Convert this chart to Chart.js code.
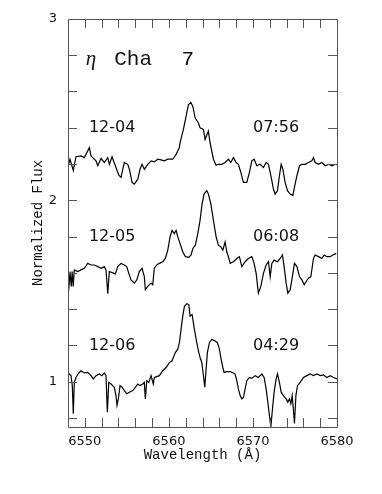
<!DOCTYPE html>
<html>
<head>
<meta charset="utf-8">
<script src="https://cdn.jsdelivr.net/npm/chart.js@4/dist/chart.umd.min.js"></script>
<style>
  html, body { margin: 0; padding: 0; background: #fff; }
  canvas { display: block; }
</style>
</head>
<body>
<canvas id="c" width="382" height="494"></canvas>
<script>
// ---- Data (wavelength in Å, normalized flux incl. offsets) ----
const wl1204 = [6548.08,6548.24,6548.63,6548.95,6549.55,6549.94,6550.54,6550.74,6551.33,6551.54,6551.93,6552.32,6552.73,6552.92,6553.24,6553.63,6554.04,6554.31,6554.70,6555.11,6555.30,6555.62,6555.89,6556.30,6556.57,6556.81,6557.08,6557.49,6557.88,6558.27,6558.68,6559.07,6559.46,6559.87,6560.46,6560.86,6561.25,6561.33,6561.73,6562.05,6562.32,6562.61,6562.85,6563.12,6563.51,6563.71,6564.11,6564.31,6564.70,6564.90,6565.30,6565.62,6565.89,6566.30,6566.69,6567.08,6567.37,6567.68,6568.00,6568.27,6568.56,6568.87,6569.27,6569.58,6569.87,6570.14,6570.46,6570.86,6571.25,6571.57,6571.85,6572.13,6572.44,6572.64,6572.92,6573.15,6573.36,6573.56,6573.83,6574.11,6574.43,6574.75,6574.90,6575.23,6575.54,6575.82,6576.21,6576.61,6577.01,6577.20,6577.40,6577.80,6578.20,6578.60,6578.99,6579.39,6579.79,6579.99];
const flux1204 = [2.198,2.226,2.164,2.240,2.244,2.235,2.290,2.244,2.217,2.190,2.230,2.208,2.235,2.198,2.240,2.190,2.138,2.126,2.208,2.198,2.171,2.098,2.089,2.116,2.171,2.198,2.171,2.198,2.217,2.211,2.226,2.222,2.217,2.226,2.226,2.253,2.290,2.317,2.390,2.463,2.526,2.539,2.517,2.454,2.426,2.399,2.390,2.335,2.381,2.317,2.226,2.193,2.198,2.198,2.208,2.226,2.208,2.235,2.208,2.198,2.153,2.098,2.098,2.153,2.217,2.226,2.190,2.198,2.180,2.208,2.198,2.135,2.062,2.034,2.053,2.135,2.198,2.171,2.098,2.053,2.034,2.026,2.062,2.135,2.190,2.198,2.198,2.208,2.217,2.235,2.208,2.198,2.208,2.190,2.198,2.190,2.198,2.195];

const wl1205 = [6548.00,6548.15,6548.24,6548.39,6548.50,6548.62,6548.75,6549.15,6549.55,6549.94,6550.35,6550.74,6551.13,6551.54,6551.93,6552.32,6552.52,6552.73,6552.92,6553.24,6553.63,6553.92,6554.31,6554.70,6554.99,6555.23,6555.50,6555.89,6556.18,6556.49,6556.81,6557.08,6557.20,6557.49,6557.88,6558.08,6558.27,6558.56,6558.87,6559.27,6559.58,6559.87,6560.14,6560.38,6560.65,6560.86,6561.06,6561.33,6561.65,6561.96,6562.37,6562.64,6562.85,6563.15,6563.44,6563.71,6563.95,6564.19,6564.51,6564.70,6564.99,6565.30,6565.62,6565.89,6566.18,6566.42,6566.69,6566.89,6567.08,6567.29,6567.68,6568.08,6568.39,6568.68,6569.07,6569.46,6569.87,6570.14,6570.38,6570.65,6570.94,6571.25,6571.57,6571.85,6572.05,6572.25,6572.52,6572.92,6573.24,6573.51,6573.71,6573.95,6574.15,6574.43,6574.63,6574.94,6575.23,6575.54,6575.82,6576.10,6576.33,6576.61,6576.89,6577.20,6577.40,6577.80,6578.20,6578.48,6578.80,6579.19,6579.51,6579.90];
const flux1205 = [1.461,1.543,1.607,1.525,1.607,1.525,1.616,1.607,1.616,1.625,1.652,1.643,1.643,1.634,1.625,1.634,1.616,1.485,1.607,1.601,1.594,1.634,1.652,1.643,1.634,1.597,1.561,1.543,1.561,1.607,1.625,1.579,1.507,1.525,1.543,1.534,1.625,1.643,1.652,1.661,1.679,1.725,1.798,1.834,1.816,1.834,1.798,1.761,1.716,1.689,1.685,1.698,1.734,1.752,1.816,1.889,1.980,2.034,2.053,2.034,1.980,1.889,1.798,1.752,1.743,1.725,1.770,1.716,1.689,1.652,1.661,1.679,1.689,1.634,1.661,1.679,1.689,1.652,1.597,1.488,1.525,1.597,1.643,1.661,1.579,1.652,1.670,1.661,1.679,1.698,1.634,1.543,1.488,1.507,1.561,1.652,1.634,1.579,1.561,1.534,1.552,1.570,1.579,1.679,1.698,1.689,1.679,1.698,1.689,1.689,1.698,1.707];

const wl1206 = [6548.00,6548.15,6548.36,6548.51,6548.63,6548.75,6548.95,6549.27,6549.55,6549.94,6550.35,6550.74,6551.01,6551.33,6551.73,6552.05,6552.32,6552.52,6552.68,6552.85,6553.12,6553.51,6553.71,6553.83,6553.99,6554.19,6554.43,6554.70,6554.99,6555.30,6555.70,6556.01,6556.30,6556.57,6556.89,6557.08,6557.20,6557.37,6557.61,6557.88,6558.15,6558.27,6558.87,6559.27,6559.67,6560.06,6560.38,6560.77,6561.06,6561.25,6561.45,6561.65,6561.85,6562.13,6562.37,6562.52,6562.76,6563.04,6563.32,6563.56,6563.71,6563.92,6564.11,6564.27,6564.43,6564.58,6564.82,6565.11,6565.50,6565.77,6566.01,6566.18,6566.42,6566.57,6566.89,6567.29,6567.68,6567.88,6568.08,6568.27,6568.48,6568.68,6568.87,6569.07,6569.27,6569.58,6569.87,6570.26,6570.65,6571.06,6571.33,6571.57,6571.77,6571.96,6572.13,6572.29,6572.52,6572.76,6572.92,6573.15,6573.36,6573.63,6573.95,6574.15,6574.35,6574.51,6574.67,6574.82,6574.94,6575.11,6575.30,6575.62,6576.01,6576.42,6576.81,6577.20,6577.61,6578.00,6578.39,6578.80,6579.19,6579.58,6579.99];
const flux1206 = [1.051,1.042,1.033,0.978,0.823,0.996,1.023,1.048,1.060,1.048,1.051,1.033,1.015,1.033,1.042,1.033,1.048,1.033,0.832,0.996,0.987,0.969,0.923,0.869,0.905,0.978,0.969,0.951,0.933,0.942,0.951,0.969,0.987,0.978,0.987,0.996,0.905,1.005,0.996,1.033,0.987,1.023,1.033,1.060,1.078,1.105,1.115,1.160,1.179,1.215,1.288,1.361,1.415,1.430,1.425,1.361,1.370,1.288,1.215,1.160,1.133,1.105,1.033,0.969,1.069,1.160,1.215,1.233,1.224,1.215,1.179,1.133,1.078,1.051,1.055,1.055,1.048,1.042,1.005,0.960,0.923,0.905,0.914,0.960,1.005,1.023,1.018,1.033,1.023,1.042,1.023,0.960,0.887,0.814,0.750,0.832,0.942,1.015,1.042,0.996,0.942,0.923,0.905,0.887,0.905,0.878,0.923,0.842,0.769,0.923,0.978,0.996,1.023,1.033,1.042,1.033,1.042,1.033,1.037,1.023,1.033,1.023,1.015];

// Tick values / labels
const xTickLabels = [6550, 6560, 6570, 6580];
const xMinorTicks = [6550,6552,6554,6556,6558,6560,6562,6564,6566,6568,6570,6572,6574,6576,6578];
const yTickLabels = [1, 2, 3];
const yMinorTicks = [0.8,1.0,1.2,1.4,1.6,1.8,2.0,2.2,2.4,2.6,2.8];

// Annotation texts
const dateLabels = ['12-04', '12-05', '12-06'];
const timeLabels = ['07:56', '06:08', '04:29'];
const labelLevels = [2.4, 1.8, 1.2];
const objectName = ['η', 'Cha', '7'];

// ---- Styling / layout constants ----
const FRAME = '#555';
const TICK_LEN = 9;

const toXY = (xs, ys) => xs.map((x, i) => ({ x, y: ys[i] }));

const frameTicks = {
  id: 'frameTicks',
  afterDraw(chart) {
    const { ctx, chartArea: a, scales: { x, y } } = chart;
    ctx.save();
    ctx.strokeStyle = FRAME;
    ctx.lineWidth = 1;
    ctx.beginPath();
    ctx.rect(Math.round(a.left) + 0.5, Math.round(a.top) + 0.5,
             Math.round(a.right - a.left), Math.round(a.bottom - a.top));
    for (const v of xMinorTicks) {
      const px = Math.round(x.getPixelForValue(v)) + 0.5;
      ctx.moveTo(px, a.bottom); ctx.lineTo(px, a.bottom - TICK_LEN);
      ctx.moveTo(px, a.top); ctx.lineTo(px, a.top + TICK_LEN);
    }
    for (const v of yMinorTicks) {
      const py = Math.round(y.getPixelForValue(v)) + 0.5;
      ctx.moveTo(a.left, py); ctx.lineTo(a.left + TICK_LEN, py);
      ctx.moveTo(a.right, py); ctx.lineTo(a.right - TICK_LEN, py);
    }
    ctx.stroke();

    // annotations
    ctx.fillStyle = '#111';
    ctx.textBaseline = 'middle';
    ctx.textAlign = 'center';
    ctx.font = '16px "DejaVu Sans"';
    for (let i = 0; i < dateLabels.length; i++) {
      const py = y.getPixelForValue(labelLevels[i]);
      ctx.fillText(dateLabels[i], x.getPixelForValue(6553.25), py);
      ctx.fillText(timeLabels[i], x.getPixelForValue(6572.75), py);
    }
    // object name
    ctx.textAlign = 'left';
    ctx.textBaseline = 'alphabetic';
    const by = y.getPixelForValue(2.745);
    ctx.font = 'italic 21px "Liberation Serif"';
    ctx.fillText(objectName[0], x.getPixelForValue(6550.1), by);
    ctx.font = '21px "Liberation Mono"';
    ctx.fillText(objectName[1], x.getPixelForValue(6553.5), by);
    ctx.fillText(objectName[2], x.getPixelForValue(6561.5), by);
    ctx.restore();
  }
};

new Chart(document.getElementById('c'), {
  type: 'scatter',
  data: {
    datasets: [
      { data: toXY(wl1204, flux1204) },
      { data: toXY(wl1205, flux1205) },
      { data: toXY(wl1206, flux1206) }
    ].map(d => Object.assign(d, {
      showLine: true, borderColor: '#000', borderWidth: 1.2,
      pointRadius: 0, tension: 0, fill: false
    }))
  },
  options: {
    responsive: false,
    animation: false,
    events: [],
    layout: { padding: { top: 14, right: 45, left: 0, bottom: 0 } },
    plugins: { legend: { display: false }, tooltip: { enabled: false } },
    scales: {
      x: {
        type: 'linear', min: 6548, max: 6580,
        afterFit: s => { s.height = 67; },
        afterBuildTicks: s => { s.ticks = xTickLabels.map(v => ({ value: v })); },
        grid: { display: false, drawTicks: false },
        border: { display: false },
        ticks: {
          padding: 7, color: '#111', maxRotation: 0, autoSkip: false,
          font: { family: '"DejaVu Sans"', size: 13 },
          callback: v => String(v)
        },
        title: {
          display: true, text: 'Wavelength (Å)', color: '#111',
          font: { family: '"Liberation Mono"', size: 14 },
          padding: { top: 0, bottom: 30 }
        }
      },
      y: {
        type: 'linear', min: 0.75, max: 3,
        afterFit: s => { s.width = 68; },
        afterBuildTicks: s => { s.ticks = yTickLabels.map(v => ({ value: v })); },
        grid: { display: false, drawTicks: false },
        border: { display: false },
        ticks: {
          padding: 11, color: '#111',
          font: { family: '"DejaVu Sans"', size: 13 },
          callback: v => String(v)
        },
        title: {
          display: true, text: 'Normalized Flux', color: '#111',
          font: { family: '"Liberation Mono"', size: 14 },
          padding: { top: 30, bottom: 0 }
        }
      }
    }
  },
  plugins: [frameTicks]
});
</script>
</body>
</html>
